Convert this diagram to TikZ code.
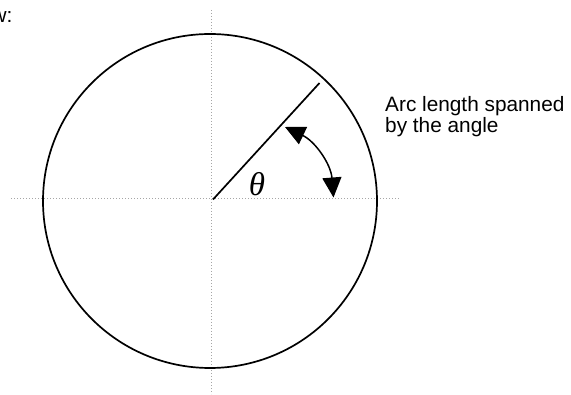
\documentclass[tikz,border=0pt]{standalone}
\usepackage{fontspec}
\setmainfont{Liberation Sans}
\newfontfamily\thetafont{Liberation Serif}
\usetikzlibrary{arrows.meta}
\begin{document}
\begin{tikzpicture}[x=1pt,y=-1pt,
  axisline/.style={draw=gray!70,line width=1.2pt,dash pattern=on 1.4pt off 1.6pt},
  thickline/.style={draw=black,line width=1.7pt},
  labeltext/.style={font=\fontsize{20.8}{21.5}\selectfont,inner sep=0pt,align=left}]
\useasboundingbox (0,0) rectangle (571,395);
% axes
\coordinate (hL) at (11,198.5);
\coordinate (hR) at (400,198.5);
\coordinate (vT) at (211.5,10);
\coordinate (vB) at (211.5,394);
\draw[axisline] (hL) -- (hR);
\draw[axisline] (vT) -- (vB);
% circle
\coordinate (O) at (210,201);
\draw[thickline] (O) circle[radius=167];
% radius
\coordinate (C) at (213,199.5);
\coordinate (R) at (319.5,83);
\draw[thickline] (C) -- (R);
% double arrow
\coordinate (a1) at (285,127);
\coordinate (a2) at (333.5,197.5);
\draw[line width=1.5pt,{Triangle[length=20pt,width=19pt]}-{Triangle[length=20pt,width=19pt]}] (a1) to[bend left=30] (a2);
% theta
\node[inner sep=0pt] (th) at (257,184.5) {\fontsize{33}{33}\selectfont\thetafont\itshape θ};
% label
\node[labeltext,anchor=north west] (lab) at (385,96) {Arc length spanned\\by the angle};
% cut text
\node[labeltext,anchor=base east] (w) at (12.5,22.5) {w:};
\end{tikzpicture}
\end{document}
